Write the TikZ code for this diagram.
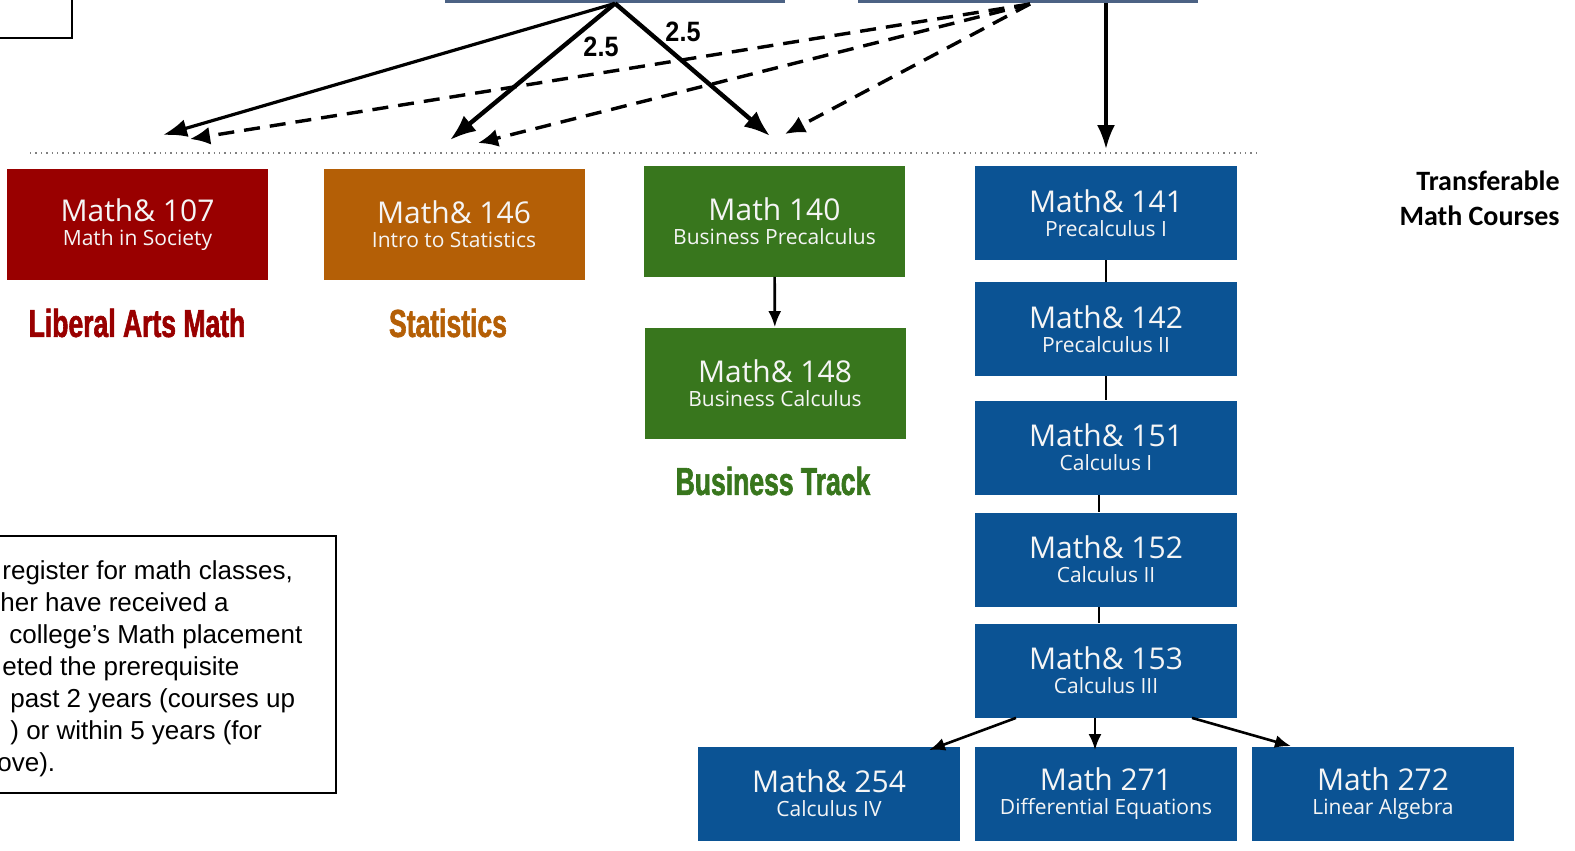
\documentclass[tikz,border=0pt]{standalone}
\usepackage{fontspec}
\setmainfont{Liberation Sans}
\newfontfamily\boxfont{Open Sans}
\newfontfamily\headfont{Carlito}
\newfontfamily\trackfont[FakeStretch=0.68,FakeBold=1.5]{Liberation Sans}
\newfontfamily\numfont[FakeStretch=0.9]{Liberation Sans}
\usetikzlibrary{arrows.meta,positioning}

\definecolor{libred}{HTML}{990000}
\definecolor{statorange}{HTML}{B45F06}
\definecolor{busgreen}{HTML}{38761D}
\definecolor{calcblue}{HTML}{0B5394}
\definecolor{slate}{HTML}{4C6284}

\begin{document}
\begin{tikzpicture}
[x=0.5pt,y=-0.5pt,
 course/.style={rectangle,inner sep=0pt,minimum width=130.5pt,
    minimum height=55.5pt,text=white!92!gray,align=center,font=\boxfont,
    execute at begin node={\rule{0pt}{17.5pt}}},
 calc/.style={course,fill=calcblue,minimum width=131pt,minimum height=47pt},
 track/.style={font=\trackfont\bfseries\fontsize{19.5}{20}\selectfont},
 link/.style={line width=2.2pt,-{Latex[length=13pt,width=10pt]}},
 thinlink/.style={line width=1.6pt,-{Latex[length=12pt,width=9pt]}},
 optlink/.style={line width=1.7pt,dash pattern=on 8pt off 5pt,
    -{Latex[length=10pt,width=9pt]}},
 prereq/.style={line width=1.3pt,-{Latex[length=8pt,width=6.5pt]}},
 weight/.style={font=\numfont\bfseries\fontsize{14}{14}\selectfont},
 note/.style={anchor=base west,inner sep=0pt,font=\fontsize{13}{15}\selectfont}]

\useasboundingbox (0,0) rectangle (1575,851);
\clip (0,0) rectangle (1575,851);

% boxes cut off at the top
\draw[line width=1pt,fill=white] (-20,-60) rectangle (72,38);
\node[rectangle,fill=slate,minimum width=170pt,minimum height=33pt,
    inner sep=0pt] (topA) at (615,-30) {};
\node[rectangle,fill=slate,minimum width=170pt,minimum height=33pt,
    inner sep=0pt] (topB) at (1028,-30) {};

% courses
\node[course,fill=libred] (m107) at (137.5,224.5)
{\fontsize{15}{17}\selectfont Math\& 107\\\fontsize{10.5}{13}\selectfont Math in Society};
\node[course,fill=statorange] (m146) at (454,224.5)
{\fontsize{15}{17}\selectfont Math\& 146\\\fontsize{10.5}{13}\selectfont Intro to Statistics};
\node[course,fill=busgreen] (m140) at (774.5,221)
{\fontsize{15}{17}\selectfont Math 140\\\fontsize{10.5}{13}\selectfont Business Precalculus};
\node[course,fill=busgreen] (m148) at (775,383)
{\fontsize{15}{17}\selectfont Math\& 148\\\fontsize{10.5}{13}\selectfont Business Calculus};

\node[calc] (m141) at (1106,213)
{\fontsize{15}{17}\selectfont Math\& 141\\\fontsize{10.5}{13}\selectfont Precalculus I};
\node[calc] (m142) at (1106,329)
{\fontsize{15}{17}\selectfont Math\& 142\\\fontsize{10.5}{13}\selectfont Precalculus II};
\node[calc] (m151) at (1106,447.5)
{\fontsize{15}{17}\selectfont Math\& 151\\\fontsize{10.5}{13}\selectfont Calculus I};
\node[calc] (m152) at (1106,559.5)
{\fontsize{15}{17}\selectfont Math\& 152\\\fontsize{10.5}{13}\selectfont Calculus II};
\node[calc] (m153) at (1106,670.5)
{\fontsize{15}{17}\selectfont Math\& 153\\\fontsize{10.5}{13}\selectfont Calculus III};
\node[calc] (m254) at (829,793.5)
{\fontsize{15}{17}\selectfont Math\& 254\\\fontsize{10.5}{13}\selectfont Calculus IV};
\node[calc] (m271) at (1106,793.5)
{\fontsize{15}{17}\selectfont Math 271\\\fontsize{10.5}{13}\selectfont Differential Equations};
\node[calc] (m272) at (1383,793.5)
{\fontsize{15}{17}\selectfont Math 272\\\fontsize{10.5}{13}\selectfont Linear Algebra};

% track names
\node[track,text=libred] (libarts) at (137,323) {Liberal Arts Math};
\node[track,text=statorange] (stats) at (448,323) {Statistics};
\node[track,text=busgreen] (business) at (773,481) {Business Track};
\node[anchor=north east,align=right,inner sep=0pt,
    font=\headfont\bfseries\fontsize{14}{17.5}\selectfont] (transfer) at (1560,170)
{Transferable\\Math Courses};

% ends of the entry arrows
\coordinate (e107) at (163,135);
\coordinate (d107) at (190,139);
\coordinate (e146) at (450,140);
\coordinate (d146) at (478,143);
\coordinate (e140) at (770,136);
\coordinate (d140) at (785,134);
\coordinate (e141) at (1106,149);
\coordinate (sB) at (1030,4);

\draw[dotted,line width=0.7pt,gray] (30,153) -- (1260,153);

\draw[thinlink] (topA.south) -- (e107);
\draw[link] (topA.south) -- (e146);
\draw[link] (topA.south) -- (e140);
\node[weight] (w146) at (601,47) {2.5};
\node[weight] (w140) at (683,32) {2.5};
\draw[optlink] (sB) -- (d107);
\draw[optlink] (sB) -- (d146);
\draw[optlink] (sB) -- (d140);
\draw[thinlink] (topB.south -| e141) -- (e141);

\draw[prereq] (m140) -- (m148);
\draw[line width=1.4pt] (m141) -- (m142);
\draw[line width=1.4pt] (m142) -- (m151);
\draw[line width=1.4pt] ([xshift=-3.5pt]m151.south) -- ([xshift=-3.5pt]m152.north);
\draw[line width=1.4pt] ([xshift=-3.5pt]m152.south) -- ([xshift=-3.5pt]m153.north);
\draw[prereq] ([xshift=-45pt]m153.south) -- ([xshift=50pt,yshift=-2pt]m254.north);
\draw[prereq] ([xshift=-5.5pt]m153.south) -- ([xshift=-5.5pt,yshift=-2pt]m271.north);
\draw[prereq] ([xshift=43pt]m153.south) -- ([xshift=-46pt]m272.north);

% note box, cut off on the left
\draw[line width=1.2pt] (-20,536) rectangle (336,793);
\node[note] (note1) at (2,579) {register for math classes,};
\node[note] (note2) at (0,611) {her have received a};
\node[note] (note3) at (9,643) {college’s Math placement};
\node[note] (note4) at (2,675) {eted the prerequisite};
\node[note] (note5) at (10,707) {past 2 years (courses up};
\node[note] (note6) at (10,739) {) or within 5 years (for};
\node[note] (note7) at (-3,771) {ove).};
\end{tikzpicture}
\end{document}
